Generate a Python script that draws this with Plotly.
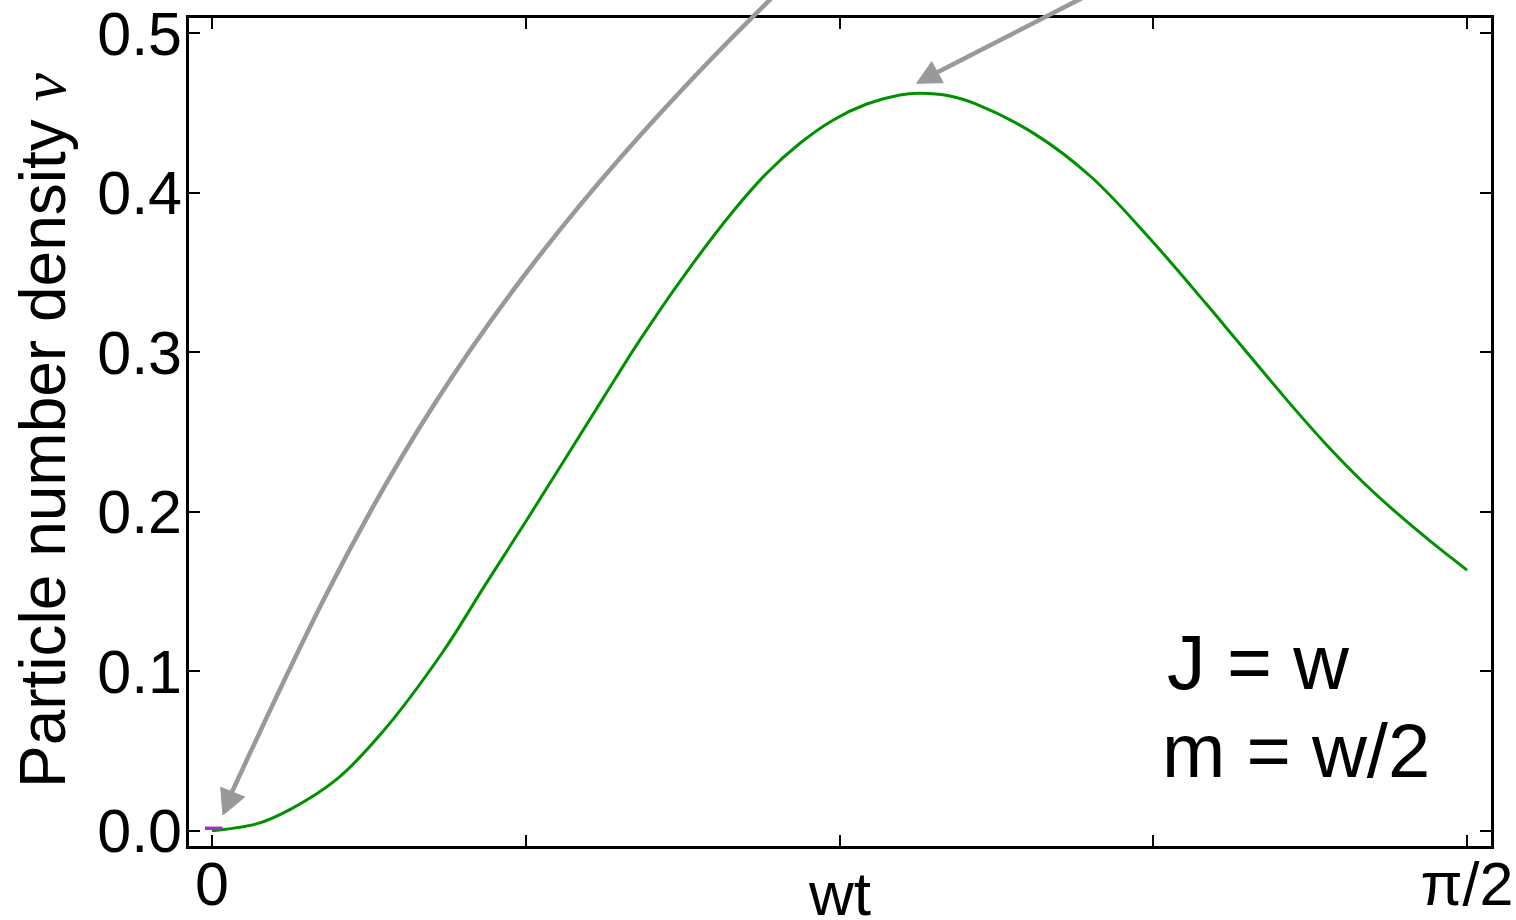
import numpy as np
import plotly.graph_objects as go

# ---- data (x as fraction of pi/2) ----
wt_frac = [0, 0.0367, 0.0624, 0.099, 0.136, 0.1843, 0.2166, 0.2508, 0.3108, 0.341,
           0.3755, 0.4154, 0.442, 0.4685, 0.4951, 0.5217, 0.5482, 0.5641, 0.588, 0.609,
           0.6548, 0.7004, 0.746, 0.792, 0.8151, 0.8377, 0.8643, 0.8908, 0.9174, 0.944,
           0.9705, 1.0]
nu_green = [0, 0.0046, 0.0134, 0.032, 0.062, 0.1125, 0.1527, 0.1948, 0.2701, 0.3077,
            0.3473, 0.3885, 0.4122, 0.4310, 0.4456, 0.4556, 0.4613, 0.4623, 0.4606, 0.4555,
            0.4372, 0.410, 0.3724, 0.3305, 0.3088, 0.2876, 0.2629, 0.2396, 0.2183, 0.1992,
            0.1817, 0.1634]
wt_purple = [-0.0056, 0.0085]
nu_purple = [0.0015, 0.0015]

x_tick_frac = [0, 0.25, 0.5, 0.75, 1.0]
x_tick_text = ["0", "", "", "", "π/2"]
y_tick_vals = [0.0, 0.1, 0.2, 0.3, 0.4, 0.5]
y_tick_text = ["0.0", "0.1", "0.2", "0.3", "0.4", "0.5"]

HALF_PI = np.pi / 2
xg = [v * HALF_PI for v in wt_frac]
xp = [v * HALF_PI for v in wt_purple]

FONT = "Liberation Sans, Arial, sans-serif"
W, H = 1516, 920
L, R, T, B = 189, 1491, 18, 846


def PX(px):
    return (px - L) / (R - L)


def PY(py):
    return (B - py) / (B - T)


fig = go.Figure()
fig.add_trace(go.Scatter(x=xg, y=nu_green, mode="lines",
                         line=dict(color="rgb(0,145,0)", width=3, shape="spline", smoothing=1.0),
                         showlegend=False, hoverinfo="skip"))
fig.add_trace(go.Scatter(x=xp, y=nu_purple, mode="lines",
                         line=dict(color="rgb(153,51,204)", width=3.5),
                         showlegend=False, hoverinfo="skip"))

gray = "rgb(153,153,153)"
shapes = []
# curved arrow
p0, p1, p2, p3 = (785, -15), (461, 300), (358, 519), (232, 792)
path1 = "M {},{} C {},{} {},{} {},{}".format(PX(p0[0]), PY(p0[1]), PX(p1[0]), PY(p1[1]),
                                           PX(p2[0]), PY(p2[1]), PX(p3[0]), PY(p3[1]))
shapes.append(dict(type="path", xref="paper", yref="paper", path=path1,
                   line=dict(color=gray, width=4.5)))
head1 = [(223, 815), (220.7, 787.3), (244.7, 797)]
shapes.append(dict(type="path", xref="paper", yref="paper",
                   path="M {},{} L {},{} L {},{} Z".format(PX(head1[0][0]), PY(head1[0][1]),
                                                         PX(head1[1][0]), PY(head1[1][1]),
                                                         PX(head1[2][0]), PY(head1[2][1])),
                   fillcolor=gray, line=dict(color=gray, width=1)))
# straight arrow
shapes.append(dict(type="line", xref="paper", yref="paper",
                   x0=PX(1097.8), y0=PY(-10), x1=PX(937.5), y1=PY(72.2),
                   line=dict(color=gray, width=4.5)))
head2 = [(916.7, 83.3), (931.7, 61.7), (943.3, 82.7)]
shapes.append(dict(type="path", xref="paper", yref="paper",
                   path="M {},{} L {},{} L {},{} Z".format(PX(head2[0][0]), PY(head2[0][1]),
                                                         PX(head2[1][0]), PY(head2[1][1]),
                                                         PX(head2[2][0]), PY(head2[2][1])),
                   fillcolor=gray, line=dict(color=gray, width=1)))

annotations = [
    dict(text="Particle number density <span style=\"font-family:Liberation Serif\"><i>ν</i></span>",
         xref="paper", yref="paper", x=PX(42.5), y=PY(430.5), xanchor="center", yanchor="middle",
         textangle=-90, showarrow=False, font=dict(family=FONT, size=64, color="black")),
    dict(text="wt", xref="x", yref="paper", x=0.5 * HALF_PI, y=PY(893),
         xanchor="center", yanchor="middle", showarrow=False,
         font=dict(family=FONT, size=62, color="black")),
    dict(text="J = w", xref="paper", yref="paper", x=PX(1165), y=PY(661.7),
         xanchor="left", yanchor="middle", showarrow=False,
         font=dict(family=FONT, size=77, color="black")),
    dict(text="m = w/2", xref="paper", yref="paper", x=PX(1160), y=PY(750.7),
         xanchor="left", yanchor="middle", showarrow=False,
         font=dict(family=FONT, size=76, color="black")),
]

fig.update_layout(
    width=W, height=H,
    margin=dict(l=L, r=W - R, t=T, b=H - B, pad=0, autoexpand=False),
    paper_bgcolor="white", plot_bgcolor="white",
    showlegend=False,
    shapes=shapes, annotations=annotations,
    font=dict(family=FONT, color="black"),
)
x_min = (L - 212) / 1255 * HALF_PI
x_max = (R - 212) / 1255 * HALF_PI
fig.update_xaxes(range=[x_min, x_max], tickvals=[v * HALF_PI for v in x_tick_frac],
                 ticktext=x_tick_text, ticks="inside", ticklen=11, tickwidth=2, tickcolor="black",
                 showline=True, linecolor="black", linewidth=2.5, mirror="ticks", automargin=False,
                 ticklabelstandoff=-17, ticklabeloverflow="allow",
                 showgrid=False, zeroline=False, tickfont=dict(family=FONT, size=61, color="black"))
y_min = (830.7 - B) / 1595
y_max = (830.7 - T) / 1595
fig.update_yaxes(range=[y_min, y_max], tickvals=y_tick_vals, ticktext=y_tick_text,
                 ticks="inside", ticklen=11, tickwidth=2, tickcolor="black", automargin=False,
                 ticklabelstandoff=-8, ticklabeloverflow="allow",
                 showline=True, linecolor="black", linewidth=2.5, mirror="ticks",
                 showgrid=False, zeroline=False, tickfont=dict(family=FONT, size=61, color="black"))

fig.write_html("out.html", config={"displayModeBar": False},
               post_script="document.body.style.margin='0px';")
